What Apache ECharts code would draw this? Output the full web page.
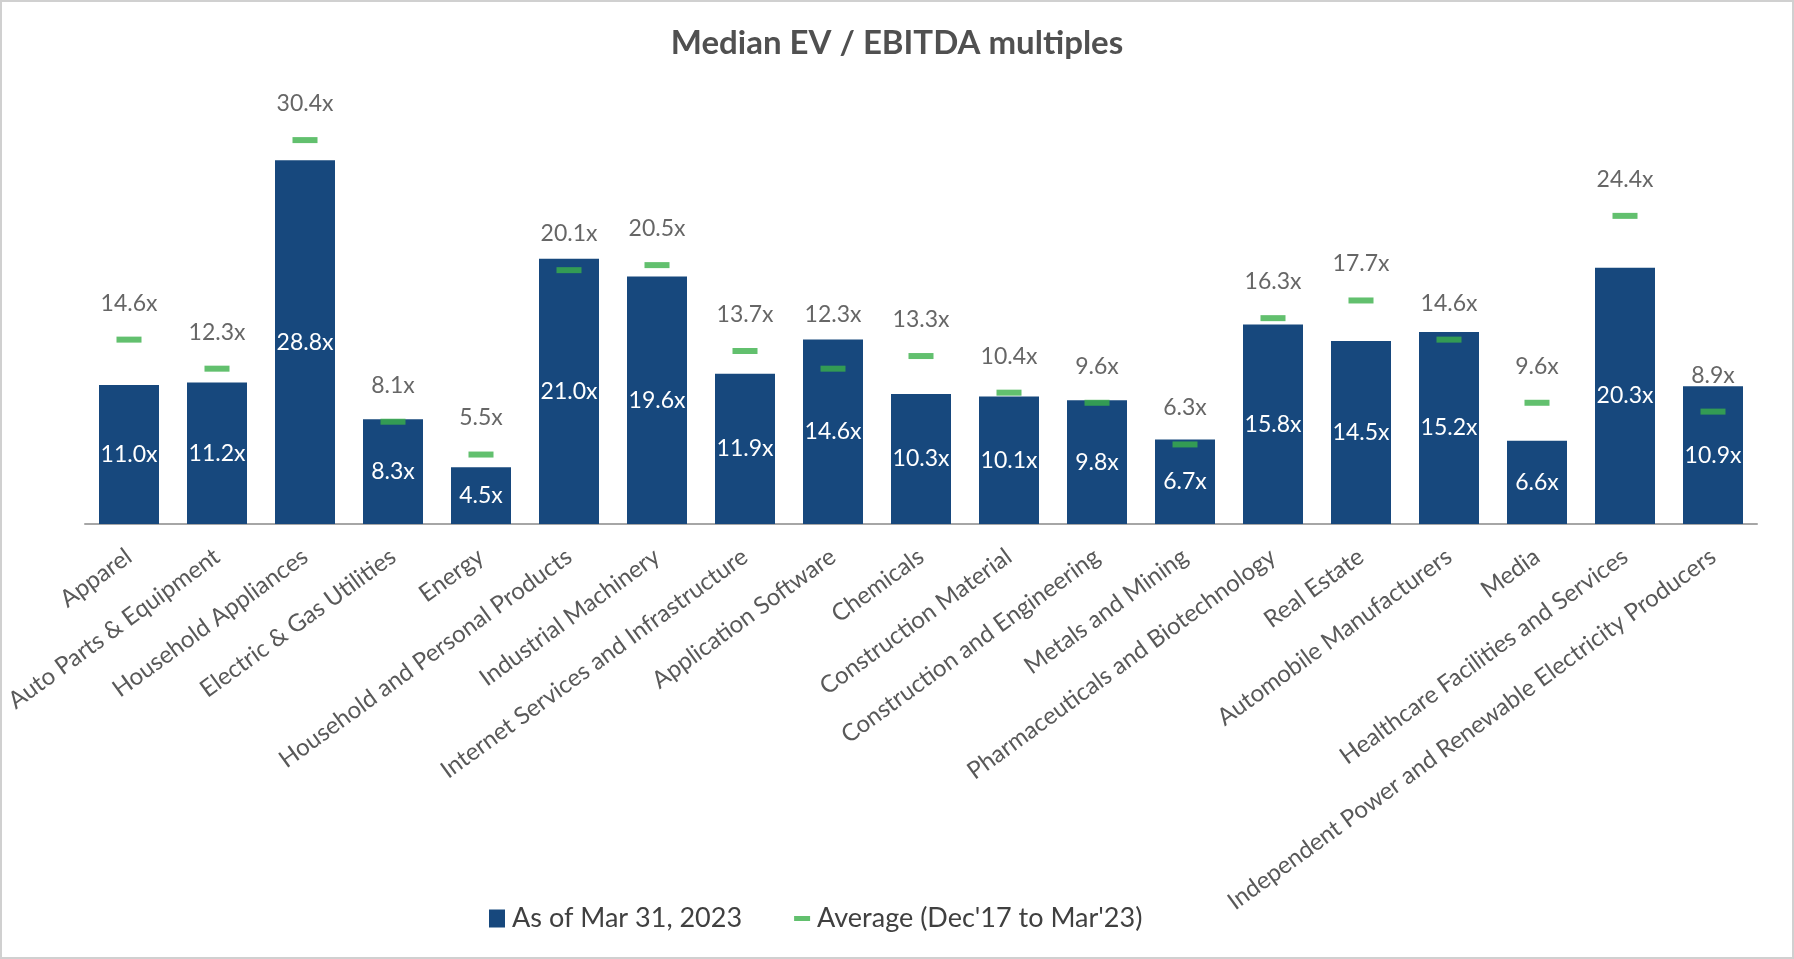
<!DOCTYPE html>
<html>
<head>
<meta charset="utf-8">
<script src="https://cdn.jsdelivr.net/npm/echarts@6/dist/echarts.min.js"></script>
<style>
  html, body { margin: 0; padding: 0; background: #fff; }
  #main { width: 1794px; height: 959px; }
</style>
</head>
<body>
<div id="main"></div>
<script>
var categories = [
    'Apparel', 'Auto Parts & Equipment', 'Household Appliances', 'Electric & Gas Utilities',
    'Energy', 'Household and Personal Products', 'Industrial Machinery',
    'Internet Services and Infrastructure', 'Application Software', 'Chemicals',
    'Construction Material', 'Construction and Engineering', 'Metals and Mining',
    'Pharmaceuticals and Biotechnology', 'Real Estate', 'Automobile Manufacturers',
    'Media', 'Healthcare Facilities and Services',
    'Independent Power and Renewable Electricity Producers'
];
var currentValues = [11.0, 11.2, 28.8, 8.3, 4.5, 21.0, 19.6, 11.9, 14.6, 10.3, 10.1, 9.8, 6.7, 15.8, 14.5, 15.2, 6.6, 20.3, 10.9];
var averageValues = [14.6, 12.3, 30.4, 8.1, 5.5, 20.1, 20.5, 13.7, 12.3, 13.3, 10.4, 9.6, 6.3, 16.3, 17.7, 14.6, 9.6, 24.4, 8.9];
var seriesNames = ['As of Mar 31, 2023', "Average (Dec'17 to Mar'23)"];

var FONT = 'Lato, "Noto Sans", sans-serif';
var myChart = echarts.init(document.getElementById('main'));

var fmt = function (p) {
    return p.value.toFixed(1) + 'x';
};

// label of the average sits higher when it would run into the bar
var avgData = averageValues.map(function (v, i) {
    var item = { value: v };
    if (currentValues[i] > v + 2) {
        item.label = { distance: 40 };
    }
    return item;
});

var option = {
    backgroundColor: '#ffffff',
    textStyle: { fontFamily: FONT },
    graphic: [{
        type: 'rect',
        shape: { x: 1, y: 1, width: 1792, height: 957 },
        style: { fill: 'none', stroke: '#d0d0d0', lineWidth: 2 },
        silent: true
    }],
    title: {
        text: 'Median EV / EBITDA multiples',
        left: 'center',
        top: 22,
        textStyle: { fontFamily: FONT, fontSize: 33, fontWeight: 'bold', color: '#505050' }
    },
    legend: {
        left: 484,
        top: 900,
        itemGap: 52,
        itemWidth: 16,
        itemHeight: 18,
        textStyle: { fontFamily: FONT, fontSize: 27, color: '#404040', padding: [0, 0, 0, 2] },
        data: [
            { name: seriesNames[0], icon: 'rect' },
            { name: seriesNames[1], icon: 'path://M0,0H16V5H0Z' }
        ]
    },
    grid: { left: 85, right: 37, top: 82, bottom: 435 },
    xAxis: {
        type: 'category',
        data: categories,
        axisLine: { lineStyle: { color: '#a6a6a6', width: 2 } },
        axisTick: { show: false },
        axisLabel: {
            interval: 0,
            rotate: 36,
            margin: 30,
            fontFamily: FONT,
            fontSize: 24,
            color: '#595959'
        }
    },
    yAxis: {
        type: 'value',
        min: 0,
        max: 35,
        show: false,
        splitLine: { show: false }
    },
    series: [
        {
            name: seriesNames[0],
            type: 'bar',
            data: currentValues,
            barWidth: 60,
            itemStyle: { color: '#17487d' },
            label: {
                show: true,
                position: 'inside',
                formatter: fmt,
                fontFamily: FONT,
                fontSize: 23,
                color: '#ffffff'
            }
        },
        {
            name: seriesNames[1],
            type: 'scatter',
            data: avgData,
            symbol: 'rect',
            symbolSize: [25, 6],
            z: 5,
            itemStyle: { color: '#3bb04a' },
            label: {
                show: true,
                position: 'top',
                distance: 22,
                formatter: fmt,
                fontFamily: FONT,
                fontSize: 23,
                color: '#404040'
            }
        }
    ]
};

myChart.setOption(option, true);
</script>
</body>
</html>
